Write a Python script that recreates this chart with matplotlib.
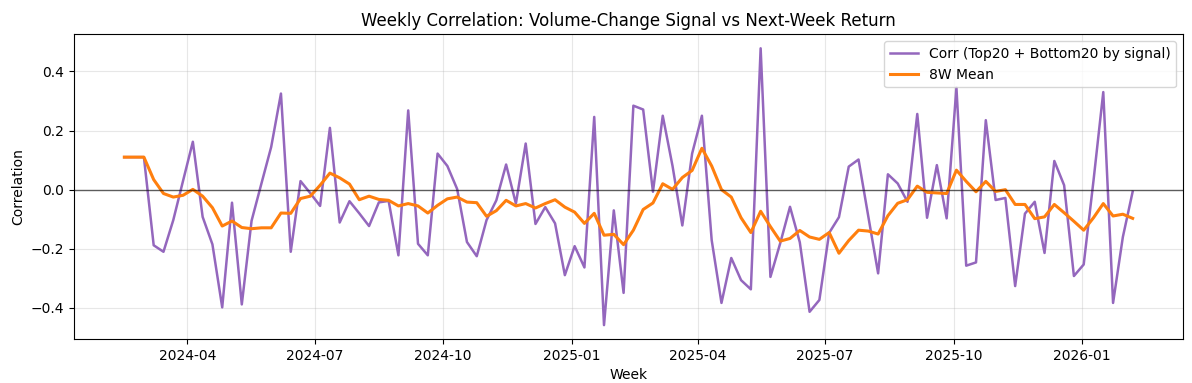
import numpy as np
import pandas as pd
import matplotlib
matplotlib.use("Agg")
import matplotlib.pyplot as plt

# weekly dates (weeks ending Friday), 104 points
weeks = pd.date_range("2024-02-16", periods=104, freq="W-FRI")

# weekly correlation
corr = [
    0.110, 0.110, 0.110, -0.188, -0.210, -0.103, 0.030, 0.162, -0.092, -0.185,
    -0.398, -0.044, -0.388, -0.105, 0.020, 0.144, 0.325, -0.210, 0.029, -0.012,
    -0.055, 0.209, -0.111, -0.039, -0.080, -0.123, -0.043, -0.038, -0.222, 0.268,
    -0.183, -0.222, 0.122, 0.080, 0.002, -0.177, -0.225, -0.103, -0.036, 0.085,
    -0.047, 0.156, -0.116, -0.059, -0.114, -0.289, -0.191, -0.263, 0.246, -0.458,
    -0.070, -0.349, 0.284, 0.271, -0.007, 0.250, 0.080, -0.121, 0.122, 0.250,
    -0.171, -0.383, -0.231, -0.306, -0.337, 0.478, -0.295, -0.181, -0.058, -0.178,
    -0.413, -0.373, -0.146, -0.093, 0.078, 0.102, -0.091, -0.283, 0.052, 0.021,
    -0.041, 0.256, -0.095, 0.083, -0.097, 0.345, -0.257, -0.246, 0.235, -0.035,
    -0.028, -0.326, -0.081, -0.041, -0.214, 0.097, 0.015, -0.292, -0.253, 0.030,
    0.330, -0.383, -0.160, -0.007,
]

# 8-week mean
mean8 = [
    0.110, 0.110, 0.110, 0.034, -0.013, -0.025, -0.019, 0.001, -0.022, -0.061,
    -0.123, -0.106, -0.128, -0.132, -0.129, -0.129, -0.079, -0.080, -0.030, -0.022,
    0.015, 0.056, 0.040, 0.019, -0.034, -0.022, -0.033, -0.036, -0.055, -0.047,
    -0.055, -0.079, -0.053, -0.031, -0.025, -0.042, -0.044, -0.090, -0.071, -0.036,
    -0.055, -0.047, -0.062, -0.047, -0.034, -0.059, -0.076, -0.114, -0.080, -0.154,
    -0.151, -0.186, -0.137, -0.067, -0.045, 0.020, 0.001, 0.041, 0.065, 0.140,
    0.080, 0.000, -0.025, -0.095, -0.145, -0.073, -0.125, -0.174, -0.165, -0.138,
    -0.160, -0.168, -0.145, -0.215, -0.172, -0.137, -0.140, -0.150, -0.088, -0.046,
    -0.034, 0.012, -0.009, -0.011, -0.013, 0.066, 0.028, -0.007, 0.028, -0.006,
    0.000, -0.050, -0.050, -0.098, -0.092, -0.050, -0.078, -0.107, -0.137, -0.095,
    -0.047, -0.089, -0.083, -0.097,
]

fig, ax = plt.subplots(figsize=(11.92, 3.83), dpi=100)

ax.plot(weeks, corr, color="#9467bd", linewidth=1.8,
        label="Corr (Top20 + Bottom20 by signal)")
ax.plot(weeks, mean8, color="#ff7f0e", linewidth=2.2, label="8W Mean")
ax.axhline(0, color="black", linewidth=1, alpha=0.6)

ax.set_title("Weekly Correlation: Volume-Change Signal vs Next-Week Return")
ax.set_xlabel("Week")
ax.set_ylabel("Correlation")
ax.grid(True, alpha=0.3)
ax.legend(loc="upper right")

fig.subplots_adjust(left=0.062, right=0.9925, bottom=0.115, top=0.91)
fig.savefig("out.png", dpi=100)
